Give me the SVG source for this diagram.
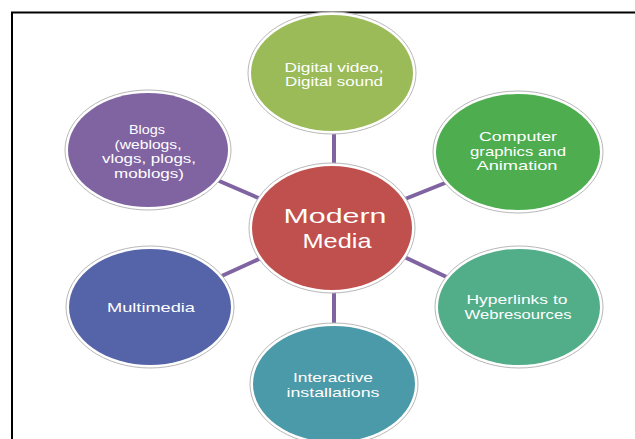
<svg xmlns="http://www.w3.org/2000/svg" width="635" height="439" viewBox="0 0 635 439">
<style>
.ring{fill:#fff;stroke:#b8b8b8;stroke-width:1}
.t{font-family:"Liberation Sans",Arial,sans-serif;font-size:13px;fill:#fff;text-anchor:middle}
.big{font-size:21px}
.conn line{stroke:#8064A2;stroke-width:4}
</style>
<rect width="635" height="439" fill="#fff"/>
<path d="M12 440 V12.5 H636" fill="none" stroke="#000" stroke-width="2"/>
<g class="conn">
<line x1="334" y1="125" x2="334" y2="175"/>
<line x1="210" y1="177" x2="270" y2="203"/>
<line x1="400" y1="201" x2="455" y2="179"/>
<line x1="215" y1="279" x2="270" y2="254"/>
<line x1="398" y1="254" x2="455" y2="281"/>
<line x1="334" y1="280" x2="334" y2="330"/>
</g>
<g id="node-digital">
<ellipse class="ring" cx="332" cy="73" rx="84" ry="61"/>
<ellipse cx="332" cy="73" rx="81" ry="58" fill="#9BBB59"/>
<text class="t" x="334" y="71.5" textLength="99" lengthAdjust="spacingAndGlyphs">Digital video,</text>
<text class="t" x="334" y="86" textLength="98" lengthAdjust="spacingAndGlyphs">Digital sound</text>
</g>
<g id="node-blogs">
<ellipse class="ring" cx="148" cy="150" rx="83" ry="60"/>
<ellipse cx="148" cy="150" rx="80" ry="57" fill="#8064A2"/>
<text class="t" x="147" y="134" textLength="36" lengthAdjust="spacingAndGlyphs">Blogs</text>
<text class="t" x="148" y="148.5" textLength="67" lengthAdjust="spacingAndGlyphs">(weblogs,</text>
<text class="t" x="149" y="163" textLength="94" lengthAdjust="spacingAndGlyphs">vlogs, plogs,</text>
<text class="t" x="149" y="177.5" textLength="70" lengthAdjust="spacingAndGlyphs">moblogs)</text>
</g>
<g id="node-computer">
<ellipse class="ring" cx="518" cy="152" rx="85" ry="61"/>
<ellipse cx="518" cy="152" rx="82" ry="58" fill="#4DAD4F"/>
<text class="t" x="518" y="141" textLength="78" lengthAdjust="spacingAndGlyphs">Computer</text>
<text class="t" x="518" y="155.5" textLength="96" lengthAdjust="spacingAndGlyphs">graphics and</text>
<text class="t" x="517" y="170" textLength="81" lengthAdjust="spacingAndGlyphs">Animation</text>
</g>
<g id="node-multimedia">
<ellipse class="ring" cx="150" cy="307" rx="84" ry="61"/>
<ellipse cx="150" cy="307" rx="81" ry="58" fill="#5564A8"/>
<text class="t" x="151" y="312" textLength="88" lengthAdjust="spacingAndGlyphs">Multimedia</text>
</g>
<g id="node-hyperlinks">
<ellipse class="ring" cx="519" cy="307" rx="84" ry="61"/>
<ellipse cx="519" cy="307" rx="81" ry="58" fill="#52AD89"/>
<text class="t" x="517" y="304" textLength="101" lengthAdjust="spacingAndGlyphs">Hyperlinks to</text>
<text class="t" x="518" y="318.5" textLength="107" lengthAdjust="spacingAndGlyphs">Webresources</text>
</g>
<g id="node-interactive">
<ellipse class="ring" cx="334" cy="384" rx="84" ry="61"/>
<ellipse cx="334" cy="384" rx="81" ry="58" fill="#4B9AA9"/>
<text class="t" x="333" y="382" textLength="80" lengthAdjust="spacingAndGlyphs">Interactive</text>
<text class="t" x="333" y="396.5" textLength="93" lengthAdjust="spacingAndGlyphs">installations</text>
</g>
<g id="node-center">
<ellipse class="ring" cx="332" cy="228" rx="83" ry="65"/>
<ellipse cx="332" cy="228" rx="80" ry="62" fill="#C0504D"/>
<text class="t big" x="335" y="223" textLength="103" lengthAdjust="spacingAndGlyphs">Modern</text>
<text class="t big" x="337" y="248" textLength="69" lengthAdjust="spacingAndGlyphs">Media</text>
</g>
</svg>
